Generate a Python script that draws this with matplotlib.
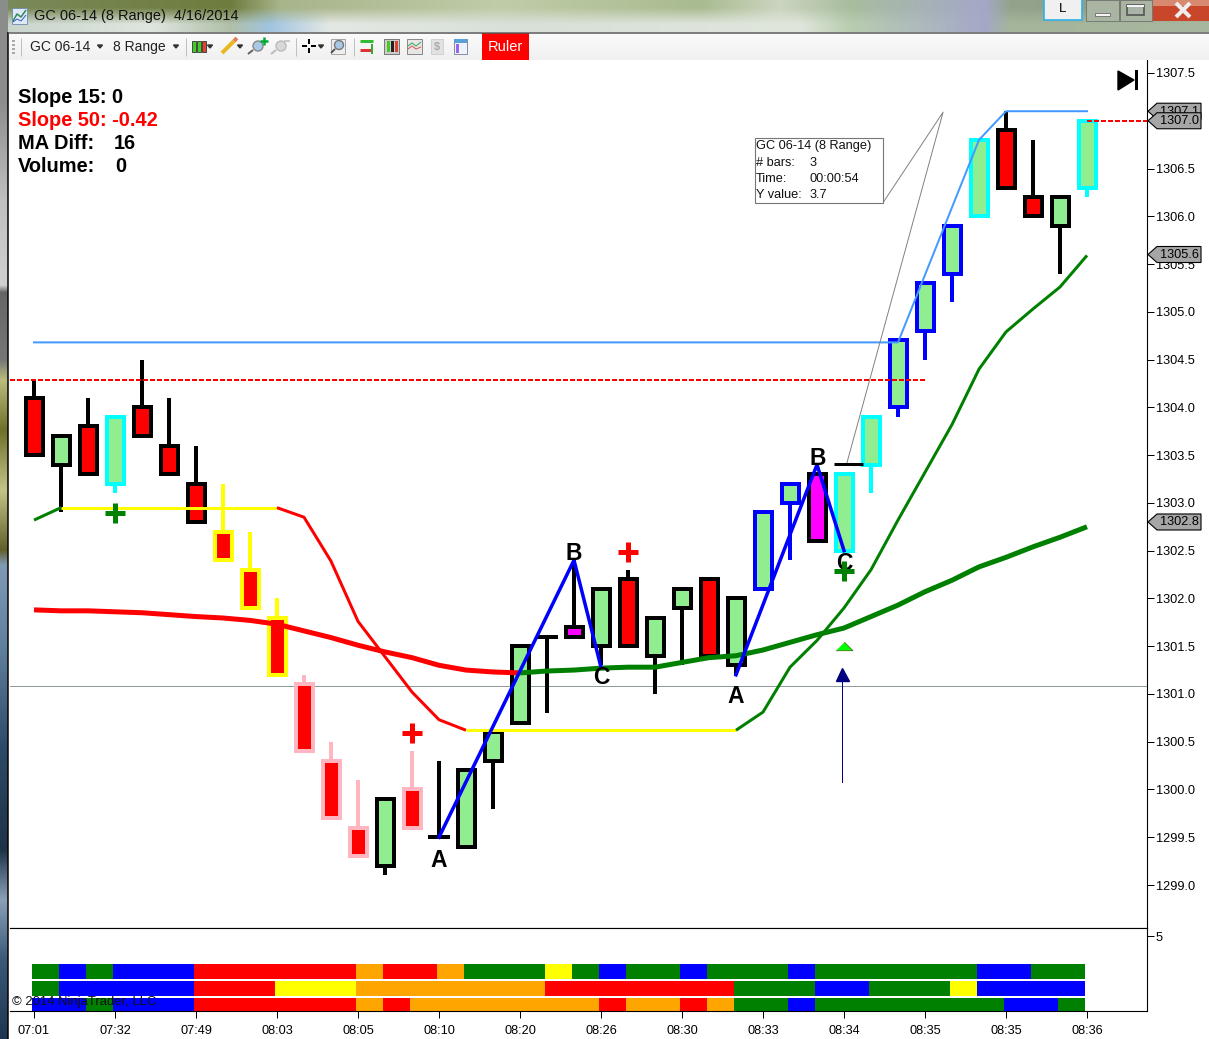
import numpy as np
import matplotlib
matplotlib.use("Agg")
import matplotlib.pyplot as plt
from matplotlib.patches import Rectangle, Polygon, Circle
from matplotlib.ticker import MultipleLocator
from matplotlib.colors import to_rgb

plt.rcParams['font.family'] = ['Liberation Sans', 'DejaVu Sans']

# time axis labels, one every three bars
time_labels = ["07:01", "07:32", "07:49", "08:03", "08:05", "08:10", "08:20",
               "08:26", "08:30", "08:33", "08:34", "08:35", "08:35", "08:36"]

# candles, one value per bar (40 bars)
opens = [1304.1, 1303.4, 1303.8, 1303.2, 1304.0, 1303.6, 1303.2, 1302.7, 1302.3, 1301.8,
         1301.1, 1300.3, 1299.6, 1299.2, 1300.0, 1299.5, 1299.4, 1300.3, 1300.7, 1301.6,
         1301.7, 1301.5, 1302.2, 1301.4, 1301.9, 1302.2, 1301.3, 1302.1, 1303.0, 1303.3,
         1302.5, 1303.4, 1304.0, 1304.8, 1305.4, 1306.0, 1306.9, 1306.2, 1305.9, 1306.3]
closes = [1303.5, 1303.7, 1303.3, 1303.9, 1303.7, 1303.3, 1302.8, 1302.4, 1301.9, 1301.2,
          1300.4, 1299.7, 1299.3, 1299.9, 1299.6, 1299.5, 1300.2, 1300.6, 1301.5, 1301.6,
          1301.6, 1302.1, 1301.5, 1301.8, 1302.1, 1301.4, 1302.0, 1302.9, 1303.2, 1302.6,
          1303.3, 1303.9, 1304.7, 1305.3, 1305.9, 1306.8, 1306.3, 1306.0, 1306.2, 1307.0]
highs = [1304.3, 1303.7, 1304.1, 1303.9, 1304.5, 1304.1, 1303.6, 1303.2, 1302.7, 1302.0,
         1301.2, 1300.5, 1300.1, 1299.9, 1300.4, 1300.3, 1300.2, 1300.6, 1301.5, 1301.6,
         1302.4, 1302.1, 1302.3, 1301.8, 1302.1, 1302.2, 1302.0, 1302.9, 1303.2, 1303.3,
         1303.3, 1303.9, 1304.7, 1305.3, 1305.9, 1306.8, 1307.1, 1306.8, 1306.2, 1307.0]
lows = [1303.5, 1302.9, 1303.3, 1303.1, 1303.7, 1303.3, 1302.8, 1302.4, 1301.9, 1301.2,
        1300.4, 1299.7, 1299.3, 1299.1, 1299.6, 1299.5, 1299.4, 1299.8, 1300.7, 1300.8,
        1301.6, 1301.3, 1301.5, 1301.0, 1301.3, 1301.4, 1301.2, 1302.1, 1302.4, 1302.6,
        1302.5, 1303.1, 1303.9, 1304.5, 1305.1, 1306.0, 1306.3, 1306.0, 1305.4, 1306.2]
# outline and wick colour per bar: k black, c cyan, y yellow, p pink, b blue
bar_edges = "kkkckkkyyypppkpk" + "kkkkkkkkkkk" + "bbk" + "ccbbbckkkc"
magenta_bars = [20, 29]

# moving averages
fast_ma = [1302.82, 1302.95, 1302.95, 1302.95, 1302.95, 1302.95, 1302.95, 1302.95, 1302.95, 1302.95,
           1302.85, 1302.39, 1301.76, 1301.39, 1301.02, 1300.73, 1300.62, 1300.62, 1300.62, 1300.62,
           1300.62, 1300.62, 1300.62, 1300.62, 1300.62, 1300.62, 1300.62, 1300.81, 1301.28, 1301.56,
           1301.90, 1302.30, 1302.82, 1303.32, 1303.82, 1304.40, 1304.79, 1305.03, 1305.26, 1305.59]
fast_spans = [(0, 1, "green"), (1, 9, "yellow"), (9, 16, "red"), (16, 26, "yellow"), (26, 39, "green")]
slow_ma = [1301.88, 1301.87, 1301.87, 1301.86, 1301.85, 1301.83, 1301.81, 1301.795, 1301.77, 1301.73,
           1301.66, 1301.59, 1301.51, 1301.44, 1301.38, 1301.30, 1301.25, 1301.23, 1301.22, 1301.24,
           1301.25, 1301.27, 1301.28, 1301.28, 1301.33, 1301.38, 1301.40, 1301.46, 1301.54, 1301.62,
           1301.69, 1301.81, 1301.93, 1302.07, 1302.19, 1302.33, 1302.43, 1302.54, 1302.64, 1302.75]
slow_spans = [(0, 18, "red"), (18, 39, "green")]

# channel line along the top
channel_x = [0, 32, 35, 36, 39]
channel_y = [1304.68, 1304.68, 1306.8, 1307.1, 1307.1]

# A-B-C swings
swing1_x = [15, 20, 21]
swing1_y = [1299.5, 1302.4, 1301.28]
swing2_x = [26, 29, 30]
swing2_y = [1301.2, 1303.4, 1302.5]
abc_labels = ["A", "B", "C", "A", "B", "C"]
abc_x = [15, 20, 21, 26, 29.02, 30]
abc_y = [1299.26, 1302.47, 1301.17, 1300.97, 1303.46, 1302.37]

# crosses and arrow
red_cross_x = [14, 22]
red_cross_y = [1300.59, 1302.49]
green_cross_x = [3, 30]
green_cross_y = [1302.89, 1302.29]

# ruler drawn on the chart
ruler_x = [30.1, 33.67, 31.44]
ruler_y = [1303.41, 1307.09, 1306.14]

# price tags on the right axis
tag_values = [1307.1, 1307.0, 1305.6, 1302.8]

# lower strip, one letter per cell
row_top = "GBGBBBRRRRRROR" + "ROGGGYGBGGBGGGBGGGGGGBBGG"
row_mid = "GBBBBBRRRYYY" + "OOOOOOORRRRRRRGGGBBGGGYBBBB"
row_bot = "BBGBBBRRRRRROR" + "OOOOOOOROOROGGBGGGGGGGBBG"
strip_colors = {"G": "#008000", "B": "#0000ff", "R": "#ff0000", "O": "#ffa500", "Y": "#ffff00"}

W, H = 1209, 1039
fig = plt.figure(figsize=(W / 100, H / 100), dpi=100, facecolor="white")


def px(n):
    return n * 72 / 100


def box(left, top, right, bottom):
    return [left / W, 1 - bottom / H, (right - left) / W, (bottom - top) / H]


# main price panel, scale 27 px a bar and 95.53 px a point
ax = fig.add_axes(box(10, 60, 1147, 928))
ax.set_xlim((10 - 34) / 27, (1147 - 34) / 27)
ax.set_ylim(1299 + (885 - 928) / 95.53, 1299 + (885 - 60) / 95.53)

edge_map = {"k": "black", "c": "#00ffff", "y": "#ffff00", "p": "#ffb6c1", "b": "#0000ff"}
for i in range(len(opens)):
    edge = edge_map[bar_edges[i]]
    ax.plot([i, i], [lows[i], highs[i]], color=edge, lw=px(4), solid_capstyle="butt", zorder=2)
    if opens[i] == closes[i]:
        ax.plot([i - 0.39, i + 0.39], [opens[i], opens[i]], color=edge, lw=px(4),
                solid_capstyle="butt", zorder=2)
        continue
    fill = "#90ee90" if closes[i] > opens[i] else "#ff0000"
    if i in magenta_bars:
        fill = "#ff00ff"
    ax.add_patch(Rectangle((i - 17 / 54, min(opens[i], closes[i])), 17 / 27, abs(opens[i] - closes[i]),
                           facecolor=fill, edgecolor=edge, lw=px(4), zorder=2.2, joinstyle="miter"))

ax.axhline(1301.08, color="#8f9b9b", lw=px(1), zorder=1)
ax.plot([-0.889, 33.0], [1304.29, 1304.29], color="red", lw=px(2), dashes=(2.5, 1), zorder=3)
ax.plot([39, 41.22], [1307.0, 1307.0], color="red", lw=px(2), dashes=(2.5, 1), zorder=3)

ax.plot(channel_x, channel_y, color="#449aff", lw=px(2), zorder=3.5)
for a, b, c in fast_spans:
    ax.plot(range(a, b + 1), fast_ma[a:b + 1], color=c, lw=px(3), zorder=3, solid_capstyle="butt")
for a, b, c in slow_spans:
    ax.plot(range(a, b + 1), slow_ma[a:b + 1], color=c, lw=px(5), zorder=3, solid_capstyle="butt")

ax.plot(swing1_x, swing1_y, color="#0000ff", lw=px(3.5), zorder=4)
ax.plot(swing2_x, swing2_y, color="#0000ff", lw=px(3.5), zorder=4)
for s, x, y in zip(abc_labels, abc_x, abc_y):
    ax.text(x, y, s, fontsize=16.5, fontweight="bold", ha="center", va="center", zorder=5)

ax.plot(red_cross_x, red_cross_y, ls="", marker="+", color="red", ms=px(20), mew=px(5), zorder=5)
ax.plot(green_cross_x, green_cross_y, ls="", marker="+", color="green", ms=px(20), mew=px(5), zorder=5)

# arrow under the last setup, and the small green triangle above it
ax.plot([29.93, 29.93], [1300.08, 1301.15], color="#000080", lw=px(1), zorder=5)
ax.plot([29.93], [1301.21], ls="", marker="^", color="#000080", ms=px(13), zorder=5)
ax.plot([30], [1301.5], ls="", marker=[(-1, -0.5), (1, -0.5), (0, 0.5)], mfc="#00ff00", mec="#406000",
        mew=0.5, ms=px(17), zorder=5)

# ruler
ax.plot(ruler_x, ruler_y, color="#808080", lw=0.7, zorder=4)
ax.plot([29.63, 30.7], [1303.41, 1303.41], color="black", lw=px(3), solid_capstyle="butt", zorder=4)

ax.yaxis.tick_right()
ax.yaxis.set_major_locator(MultipleLocator(0.5))
ax.yaxis.set_major_formatter(lambda v, pos: f"{v:.1f}")
ax.tick_params(axis="y", length=px(7), width=px(1), labelsize=9.2, pad=px(2), colors="black")
ax.set_xticks([])
for s in ["left", "top"]:
    ax.spines[s].set_visible(False)

# lower strip panel
ax2 = fig.add_axes(box(10, 928, 1147, 1010.5))
ax2.set_xlim(ax.get_xlim())
ax2.set_ylim(0, 5.537)
rows = [(row_top, 2.11, 1.0), (row_mid, 0.97, 1.0), (row_bot, 0.0, 0.84)]
for cells, y0, h in rows:
    for i, letter in enumerate(cells):
        ax2.add_patch(Rectangle((i - 0.074, y0), 1, h, facecolor=strip_colors[letter], edgecolor="none"))
ax2.yaxis.tick_right()
ax2.set_yticks([5])
ax2.set_yticklabels(["5"])
ax2.tick_params(axis="y", length=px(7), width=px(1), labelsize=9.2, pad=px(2))
ax2.set_xticks(np.arange(len(time_labels)) * 3)
ax2.set_xticklabels(time_labels)
ax2.tick_params(axis="x", length=px(7), width=px(1), labelsize=9.2, pad=px(7))
ax2.spines["left"].set_visible(False)

# overlay in pixels for the window frame, toolbar and text
top = fig.add_axes([0, 0, 1, 1], zorder=10)
top.patch.set_visible(False)
top.axis("off")


def gradient(stops, n):
    pos = [s[0] for s in stops]
    cols = np.array([to_rgb(s[1]) for s in stops])
    grid = np.linspace(pos[0], pos[-1], n)
    return np.stack([np.interp(grid, pos, cols[:, k]) for k in range(3)], axis=-1)


title_top = [(0, "#7a8a5a"), (230, "#6e7c3e"), (280, "#a8b48a"), (500, "#c0cca8"), (700, "#a9bb90"),
             (780, "#cbd5c0"), (850, "#a9bd9e"), (985, "#a4a8c8"), (1010, "#94a48c"), (1209, "#8c9c84")]
title_bottom = [(0, "#c8d4cc"), (150, "#dfe6e0"), (230, "#b0c0a8"), (270, "#a0c4e0"), (330, "#e4e8e4"),
                (520, "#d8e0d8"), (800, "#e0e6dc"), (850, "#b9cdb0"), (985, "#a4a8c8"), (1010, "#a5b59c"),
                (1209, "#a8b8a0")]
title_img = np.stack([gradient(title_top, W), gradient(title_bottom, W)])
top.imshow(title_img, extent=(0, W, 32, 0), aspect="auto", interpolation="bilinear", zorder=0)
frame_stops = [(0, "#8a8f8a"), (100, "#8c8c8c"), (200, "#c0c0c0"), (285, "#d0d0d0"), (292, "#666666"),
               (360, "#777777"), (380, "#bcbc7c"), (430, "#70702a"), (490, "#c4c488"), (550, "#60602a"),
               (565, "#7f9ab5"), (650, "#5f7f9f"), (750, "#2c4a66"), (850, "#1f3347"), (900, "#8aa0b8"),
               (960, "#3a5a78"), (1039, "#1e3550")]
top.imshow(gradient(frame_stops, H)[:, None, :], extent=(0, 8, H, 0), aspect="auto", zorder=0)
toolbar_stops = [(0, "#fbfbfb"), (1, "#f0f0f0")]
top.imshow(gradient(toolbar_stops, 27)[:, None, :], extent=(9, W, 60, 33), aspect="auto", zorder=0)
top.set_xlim(0, W)
top.set_ylim(H, 0)


def rect(x0, y0, x1, y1, fc, ec="none", lw=0.0, z=1):
    top.add_patch(Rectangle((x0, y0), x1 - x0, y1 - y0, facecolor=fc, edgecolor=ec, lw=lw, zorder=z))


def line(xs, ys, c="black", w=1, z=2):
    top.plot(xs, ys, color=c, lw=px(w), zorder=z, solid_capstyle="butt")


line([8, 8], [32, H], "black", 1.5)
line([8, W], [32.5, 32.5], "#555555", 1.5)

# title bar
rect(12, 8, 27, 24, "#dfe9f5", "#6a8caa", 0.6)
line([13, 17, 21, 26], [21, 14, 17, 10], "#2e8b57", 1.5)
line([13, 17, 21, 26], [22, 19, 21, 15], "#3a5fcd", 1)
top.text(34, 16, "GC 06-14 (8 Range)  4/16/2014", fontsize=10.45, va="center", color="#111111")
rect(1044, -1, 1082, 20, "#f0f0f0", "#30b0e8", 1.2)
top.text(1063, 9, "L", fontsize=9.5, ha="center", va="center")
rect(1086, 0, 1119, 21, "#a9b4a2", "#666666", 0.5)
rect(1120, 0, 1152, 21, "#a9b4a2", "#666666", 0.5)
rect(1153, 0, W, 21, "#c8472a", "none")
rect(1153, 0, W, 6, "#d88a70", "none", z=1.2)
rect(1095, 13, 1110, 16, "#f4f4f4", "#555555", 0.5)
rect(1127, 5, 1144, 15, "#aab4a6", "#555555", 1.2)
rect(1127, 5, 1144, 7, "#f4f4f4", "none", z=1.2)
line([1176, 1190], [3, 17], "#eeeeee", 4)
line([1190, 1176], [3, 17], "#eeeeee", 4)

# toolbar
for gy in [40, 44, 48, 52]:
    rect(12, gy, 15, gy + 2, "#aaaaaa")
for sep_x in [21, 186, 296, 354]:
    line([sep_x, sep_x], [38, 56], "#c0c0c0", 1)
top.text(30, 47, "GC 06-14", fontsize=10, va="center", color="#222222")
top.text(113, 47, "8 Range", fontsize=10, va="center", color="#222222")
for tx in [100, 176, 210, 240, 321]:
    top.add_patch(Polygon([(tx - 2.5, 45), (tx + 2.5, 45), (tx, 48)], color="#333333", zorder=2))
for cx, cc in [(194, "#44cc22"), (199, "#44cc22"), (204, "#dd4433")]:
    rect(cx - 2, 41, cx + 2, 52, cc, "#333333", 0.6)
line([222, 234], [53, 41], "#e8b820", 4)
line([234, 237], [41, 38], "#e08060", 4)
top.add_patch(Circle((258, 46), 5, fc="#a8c8e8", ec="#888888", lw=1, zorder=2))
line([253, 248], [50, 54], "#666666", 2)
line([260, 268], [41, 41], "#00aa33", 2.5)
line([264, 264], [37, 45], "#00aa33", 2.5)
top.add_patch(Circle((281, 46), 5, fc="#d8d8d8", ec="#bbbbbb", lw=1, zorder=2))
line([276, 271], [50, 54], "#bbbbbb", 2)
line([284, 290], [41, 41], "#bbbbbb", 1.5)
for seg in [([302, 307], [46, 46]), ([311, 316], [46, 46]), ([309, 309], [39, 44]), ([309, 309], [48, 53])]:
    line(seg[0], seg[1], "black", 2)
rect(331, 39, 345, 54, "#eeeeee", "#999999", 0.6)
top.add_patch(Circle((339, 45), 4.5, fc="#a8c8e8", ec="#777777", lw=1, zorder=2))
line([335, 331], [49, 53], "#555555", 2)
line([360, 373], [41, 41], "#33bb33", 3)
line([360, 371], [50, 50], "#dd3333", 3)
line([372, 372], [44, 54], "#33aa33", 2)
rect(384, 39, 399, 54, "#cccccc", "#666666", 0.6)
for cx, cc in [(388, "#44cc22"), (392, "#222222"), (396, "#dd4433")]:
    rect(cx - 1.5, 41, cx + 1.5, 52, cc)
rect(407, 39, 422, 54, "#e6e6e6", "#777777", 0.6)
line([408, 412, 416, 421], [46, 43, 46, 42], "#33aa55", 1)
line([408, 412, 416, 421], [49, 46, 49, 47], "#dd5555", 1)
rect(431, 39, 443, 54, "#e2e2e2", "#cccccc", 0.6)
top.text(437, 47, "$", fontsize=8, ha="center", va="center", color="#aaaaaa", fontweight="bold")
rect(454, 39, 467, 54, "#eef2fa", "#777799", 0.6)
rect(454, 39, 467, 43, "#5aa0d8")
rect(456, 44, 459, 53, "#9966ee")
rect(482, 33, 529, 60, "#ff0000")
top.text(505.5, 47, "Ruler", fontsize=10.5, color="white", ha="center", va="center")

# info lines top left
info_lines = [("Slope 15: 0", "black", 97.5), ("Slope 50: -0.42", "red", 120.5)]
for s, c, y in info_lines:
    top.text(18, y, s, fontsize=14.4, fontweight="bold", color=c, va="center")
top.text(18, 143.5, "MA Diff:", fontsize=14.4, fontweight="bold", va="center")
top.text(114, 143.5, "16", fontsize=14.4, fontweight="bold", va="center")
top.text(18, 166.5, "Volume:", fontsize=14.4, fontweight="bold", va="center")
top.text(115, 166.5, "0", fontsize=14.4, fontweight="bold", va="center")

# ruler read-out box
rect(755, 138, 883, 203, "white", "#777777", 0.8, z=3)
for y, a, b in [(146.5, "GC 06-14 (8 Range)", ""), (162.5, "# bars:", "3"),
                (178.5, "Time:", "00:00:54"), (194.5, "Y value:", "3.7")]:
    top.text(756, y, a, fontsize=9.2, va="center", color="#111111", zorder=4)
    top.text(810, y, b, fontsize=9.2, va="center", color="#111111", zorder=4)

# skip-to-end button
top.add_patch(Polygon([(1118, 71), (1118, 90), (1134, 80)], color="black", zorder=3))
rect(1135, 70, 1138, 90, "black", z=3)

# copyright line over the strip
top.text(12, 1002, "\u00a9 2014 NinjaTrader, LLC", fontsize=9.4, va="center", color="#111111", zorder=5)

# price tags over the axis labels
for n, v in enumerate(tag_values):
    y = 885 - (v - 1299) * 95.53
    top.add_patch(Polygon([(1148, y), (1157, y - 8), (1201, y - 8), (1201, y + 8), (1157, y + 8)],
                          facecolor="#a6a6a6", edgecolor="black", lw=0.8, zorder=6 + n))
    top.text(1160, y + 0.5, f"{v:.1f}", fontsize=9.2, va="center", color="black", zorder=6 + n)

fig.savefig("out.png", dpi=100)
